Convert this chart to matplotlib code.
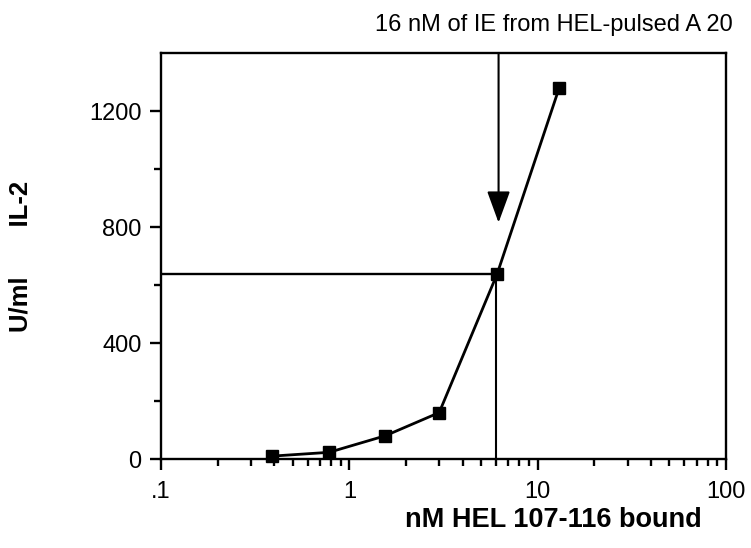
# il2_response.py
# -*- coding: utf-8 -*-

import matplotlib
matplotlib.use("Agg")
import matplotlib.pyplot as plt
from matplotlib.ticker import FixedLocator, FixedFormatter, NullFormatter

# Input values.
hel_bound = [0.39, 0.78, 1.55, 3.0, 6.1, 13.0]
il2_units = [10, 23, 80, 160, 639, 1279]

# Reference lines: 16 nM IE from HEL-pulsed A 20.
ref_x_low = 6.0
ref_x_arrow = 6.2
ref_y = 639
arrow_tip = 815

x_ticks = [0.1, 1, 10, 100]
x_tick_labels = [".1", "1", "10", "100"]
y_ticks = [0, 400, 800, 1200]
y_minor = [200, 600, 1000]

plt.rcParams["font.family"] = ["Liberation Sans", "DejaVu Sans"]

fig = plt.figure(figsize=(7.51, 5.48), dpi=100)
ax = fig.add_axes([161 / 751, 1 - 459 / 548, 565 / 751, 406 / 548])

ax.set_xscale("log")
ax.set_xlim(0.1, 100)
ax.set_ylim(0, 1400)

# Guide lines and arrow.
ax.plot([0.1, hel_bound[4]], [ref_y, ref_y], color="black", lw=1.7, zorder=2)
ax.plot([ref_x_low, ref_x_low], [0, ref_y], color="black", lw=1.5, zorder=2)
ax.annotate("", xy=(ref_x_arrow, arrow_tip), xytext=(ref_x_arrow, 1400),
            arrowprops=dict(arrowstyle="-|>,head_length=1.15,head_width=0.42",
                            color="black", lw=1.5, mutation_scale=17,
                            shrinkA=0, shrinkB=0))

# Data series.
ax.plot(hel_bound, il2_units, color="black", lw=2.0, marker="s",
        markersize=8.5, zorder=3, clip_on=False)

# Axis styling.
for side in ax.spines.values():
    side.set_linewidth(1.7)

ax.xaxis.set_major_locator(FixedLocator(x_ticks))
ax.xaxis.set_major_formatter(FixedFormatter(x_tick_labels))
ax.xaxis.set_minor_formatter(NullFormatter())
ax.yaxis.set_major_locator(FixedLocator(y_ticks))
ax.yaxis.set_minor_locator(FixedLocator(y_minor))

ax.tick_params(axis="both", which="major", direction="out", length=8,
               width=1.7, labelsize=17, pad=6)
ax.tick_params(axis="x", which="major", pad=8)
ax.tick_params(axis="both", which="minor", direction="out", length=5,
               width=1.7)

ax.set_xlabel("nM HEL 107-116 bound", fontsize=19.5, fontweight="bold")
ax.xaxis.set_label_coords(0.694, -0.118)
ax.set_ylabel("U/ml       IL-2", fontsize=18.5, fontweight="bold")
ax.yaxis.set_label_coords(-0.228, 0.5)

fig.text(733 / 751, 1 - 31 / 548, "16 nM of IE from HEL-pulsed A 20",
         fontsize=17, ha="right", va="baseline")

fig.savefig("out.png", dpi=100)
